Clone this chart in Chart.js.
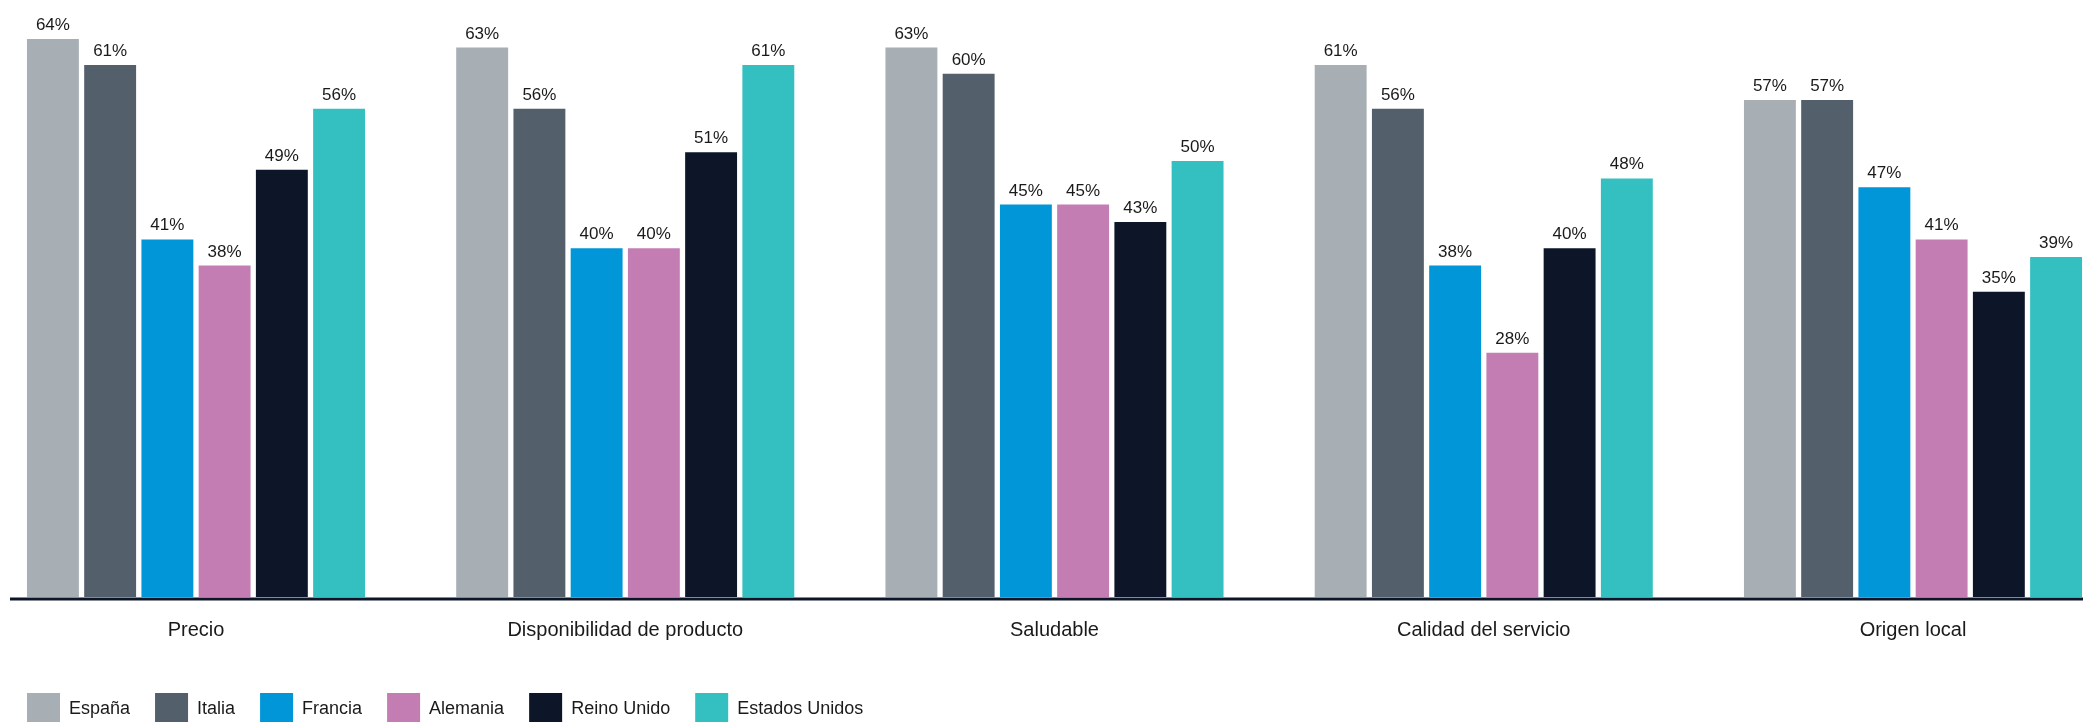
<!DOCTYPE html>
<html lang="es">
<head>
<meta charset="utf-8">
<title>Factores de compra por país</title>
<script src="https://cdn.jsdelivr.net/npm/chart.js@4/dist/chart.umd.min.js"></script>
<style>
  html, body { margin: 0; padding: 0; background: #fff; }
  #wrap { position: relative; width: 2083px; height: 722px; }
</style>
</head>
<body>
<div id="wrap"><canvas id="factores"></canvas></div>
<script>
var categorias = ['Precio', 'Disponibilidad de producto', 'Saludable', 'Calidad del servicio', 'Origen local'];
var paises = ['España', 'Italia', 'Francia', 'Alemania', 'Reino Unido', 'Estados Unidos'];
var colores = ['#A7AEB4', '#535F6B', '#0096D8', '#C37DB3', '#0C1628', '#34BFC1'];

var espana = [64, 63, 63, 61, 57];
var italia = [61, 56, 60, 56, 57];
var francia = [41, 40, 45, 38, 47];
var alemania = [38, 40, 45, 28, 41];
var reinoUnido = [49, 51, 43, 40, 35];
var eeuu = [56, 61, 50, 48, 39];

var valores = [espana, italia, francia, alemania, reinoUnido, eeuu];

// percentage labels above every bar
var etiquetas = {
  id: 'etiquetas',
  afterDatasetsDraw: function (chart) {
    var ctx = chart.ctx;
    ctx.save();
    ctx.font = '17px "Liberation Sans", Arial, sans-serif';
    ctx.fillStyle = '#1a1a1a';
    ctx.textAlign = 'center';
    ctx.textBaseline = 'alphabetic';
    chart.data.datasets.forEach(function (ds, i) {
      chart.getDatasetMeta(i).data.forEach(function (bar, j) {
        ctx.fillText(ds.data[j] + '%', bar.x, bar.y - 9);
      });
    });
    ctx.restore();
  }
};

// baseline running across the whole width
var lineaBase = {
  id: 'lineaBase',
  afterDatasetsDraw: function (chart) {
    var ctx = chart.ctx;
    var y = chart.scales.y.getPixelForValue(0) + 2;
    ctx.save();
    ctx.strokeStyle = '#0C1628';
    ctx.lineWidth = 3;
    ctx.beginPath();
    ctx.moveTo(10, y);
    ctx.lineTo(chart.width, y);
    ctx.stroke();
    ctx.restore();
  }
};

var ctx = document.getElementById('factores').getContext('2d');
var chart = new Chart(ctx, {
  type: 'bar',
  data: {
    labels: categorias,
    datasets: paises.map(function (p, i) {
      return {
        label: p,
        data: valores[i],
        backgroundColor: colores[i],
        borderWidth: 0,
        categoryPercentage: 0.8,
        barPercentage: 0.907,
        clip: false
      };
    })
  },
  options: {
    responsive: true,
    maintainAspectRatio: false,
    animation: false,
    layout: {
      padding: { left: 2, right: 170, top: 4, bottom: -14 }
    },
    scales: {
      x: {
        offset: false,
        grid: { display: false, drawTicks: false },
        border: { display: false },
        ticks: {
          padding: 21,
          color: '#1a1a1a',
          font: { family: '"Liberation Sans", Arial, sans-serif', size: 20 }
        },
        afterFit: function (scale) { scale.height = 71; }
      },
      y: {
        min: 0,
        max: 68,
        grid: { display: false },
        border: { display: false },
        ticks: { display: false },
        afterFit: function (scale) { scale.width = 194; }
      }
    },
    plugins: {
      legend: {
        position: 'bottom',
        align: 'start',
        labels: {
          boxWidth: 33,
          boxHeight: 33,
          padding: 25,
          color: '#1a1a1a',
          font: { family: '"Liberation Sans", Arial, sans-serif', size: 18 }
        }
      },
      tooltip: { enabled: false }
    }
  },
  plugins: [etiquetas, lineaBase]
});
</script>
</body>
</html>
